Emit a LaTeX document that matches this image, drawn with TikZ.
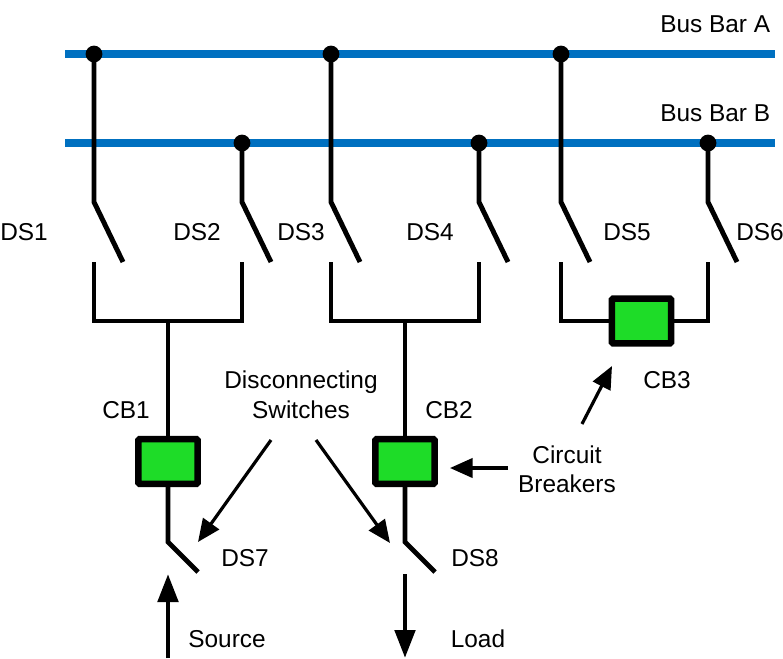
\documentclass[tikz,border=0pt]{standalone}
\usepackage{fontspec}
\setmainfont{Liberation Sans}
\usetikzlibrary{arrows.meta}
\definecolor{busblue}{HTML}{0070C0}
\definecolor{cbgreen}{HTML}{1EDC28}
\tikzset{
  px/.style={x=0.75pt,y=-0.75pt},
  busbar/.style={draw=busblue,line width=6.4pt},
  junction/.style={circle,fill=black,inner sep=0pt,minimum size=12.6pt},
  wire/.style={draw=black,line width=3.7pt,line join=miter,line cap=butt},
  breaker/.style={rectangle,draw=black,fill=cbgreen,line width=4.8pt,rounded corners=0.8pt,minimum width=44.5pt,minimum height=33.5pt,inner sep=0pt},
  lab/.style={font=\fontsize{18.3pt}{21pt}\selectfont,inner sep=0pt,anchor=base},
  thinarrow/.style={draw=black,line width=2.4pt,-{Triangle[length=17pt,width=14.5pt]}},
  powerarrow/.style={draw=black,line width=3.7pt,-{Triangle[length=21pt,width=15pt]}},
}
\begin{document}
\begin{tikzpicture}[px]
\useasboundingbox (0,0) rectangle (783,658);
% bus bars
\coordinate (aL) at (65,54); \coordinate (aR) at (775,54);
\coordinate (bL) at (65,143); \coordinate (bR) at (775,143);
\draw[busbar] (aL) -- (aR);
\draw[busbar] (bL) -- (bR);
% junctions
\node[junction] (j1) at (94,54) {};
\node[junction] (j2) at (242,143) {};
\node[junction] (j3) at (331,54) {};
\node[junction] (j4) at (479,143) {};
\node[junction] (j5) at (561,54) {};
\node[junction] (j6) at (708,143) {};
% breakers
\node[breaker] (cb1) at (168,461.5) {};
\node[breaker] (cb2) at (405,461.5) {};
\node[breaker] (cb3) at (641.5,321) {};
% switch pivots, blade ends, lower contacts
\foreach \n/\x/\jy in {1/94/54,2/242/143,3/331/54,4/479/143,5/561/54,6/708/143}{
  \coordinate (p\n) at (\x,202);
  \pgfmathsetmacro{\bx}{\x+29}
  \coordinate (e\n) at (\bx,262);
  \coordinate (c\n) at (\x,262);
  \coordinate (f\n) at (\x,321);
  \draw[wire] (j\n.center) -- (p\n) -- (e\n);
}
\coordinate (s1) at (168,321);
\coordinate (s2) at (405,321);
\draw[wire] (c1) -- (f1) -- (f2) -- (c2);
\draw[wire] (c3) -- (f3) -- (f4) -- (c4);
\draw[wire] (c5) -- (f5) -- (cb3);
\draw[wire] (c6) -- (f6) -- (cb3);
\draw[wire] (s1) -- (cb1);
\draw[wire] (s2) -- (cb2);
% DS7, DS8
\coordinate (p7) at (168,542); \coordinate (e7) at (198,572);
\coordinate (p8) at (405,542); \coordinate (e8) at (435,572);
\draw[wire] (cb1) -- (p7) -- (e7);
\draw[wire] (cb2) -- (p8) -- (e8);
% source and load
\coordinate (srcA) at (168,658); \coordinate (srcB) at (168,574);
\coordinate (loadA) at (405,574); \coordinate (loadB) at (405,658);
\draw[powerarrow] (srcA) -- (srcB);
\draw[powerarrow] (loadA) -- (loadB);
% labels
\node[lab,anchor=base west] (busA) at (660,32) {Bus Bar A};
\node[lab,anchor=base west] (busB) at (660,121) {Bus Bar B};
\node[lab] (ds1) at (24,240) {DS1};
\node[lab] (ds2) at (197,240) {DS2};
\node[lab] (ds3) at (301,240) {DS3};
\node[lab] (ds4) at (430,240) {DS4};
\node[lab] (ds5) at (627,240) {DS5};
\node[lab] (ds6) at (760,240) {DS6};
\node[lab] (cb1t) at (126,418) {CB1};
\node[lab] (cb2t) at (449,418) {CB2};
\node[lab] (cb3t) at (667,388) {CB3};
\node[lab] (dis) at (301,388) {Disconnecting};
\node[lab] (sw) at (301,418) {Switches};
\node[lab] (cir) at (567,463) {Circuit};
\node[lab] (bre) at (567,492) {Breakers};
\node[lab] (ds7) at (245,566) {DS7};
\node[lab] (ds8) at (475,566) {DS8};
\node[lab] (src) at (227,647) {Source};
\node[lab] (load) at (478,647) {Load};
% pointer arrows
\coordinate (d1) at (271,440); \coordinate (d1t) at (198,542);
\coordinate (d2) at (316,440); \coordinate (d2t) at (390,543);
\coordinate (c3a) at (582,424); \coordinate (c3t) at (612,366);
\coordinate (c2a) at (508,468); \coordinate (c2t) at (450,468);
\draw[thinarrow] (d1) -- (d1t);
\draw[thinarrow] (d2) -- (d2t);
\draw[thinarrow] (c3a) -- (c3t);
\draw[thinarrow] (c2a) -- (c2t);
\end{tikzpicture}
\end{document}
